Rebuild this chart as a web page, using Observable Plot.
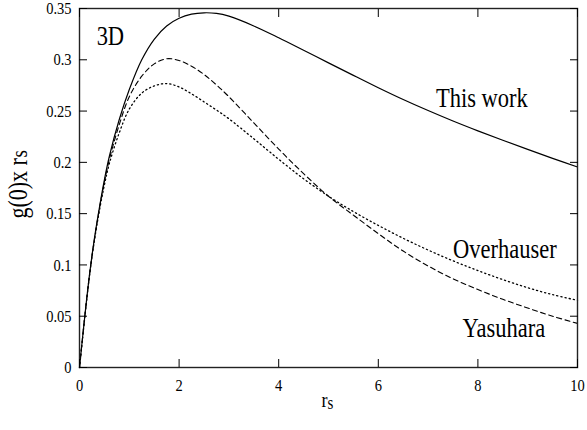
<!DOCTYPE html>
<html>
<head>
<meta charset="utf-8">
<script src="https://cdn.jsdelivr.net/npm/d3@7"></script>
<script src="https://cdn.jsdelivr.net/npm/@observablehq/plot@0.6"></script>
<style>
  html, body { margin: 0; padding: 0; background: white; }
</style>
</head>
<body>
<div id="chart"></div>
<script>
// r_s sample points
const rs = [0, 0.1, 0.2, 0.3, 0.4, 0.5, 0.6, 0.8, 1.0, 1.25, 1.5, 1.75, 2.0, 2.25, 2.5, 2.75, 3.0, 3.5, 4.0, 4.5, 5.0, 5.5, 6.0, 6.5, 7.0, 7.5, 8.0, 8.5, 9.0, 9.5, 10];
// g(0) x r_s for each model
const thisWork   = [0, 0.047, 0.090, 0.126, 0.156, 0.183, 0.206, 0.242, 0.271, 0.300, 0.320, 0.333, 0.3405, 0.3445, 0.3458, 0.3452, 0.3425, 0.333, 0.3215, 0.3093, 0.297, 0.2848, 0.2728, 0.2613, 0.2505, 0.2403, 0.2307, 0.2215, 0.2126, 0.2039, 0.1955];
const overhauser = [0, 0.046, 0.089, 0.124, 0.153, 0.178, 0.199, 0.229, 0.252, 0.2675, 0.2745, 0.2768, 0.2735, 0.2668, 0.259, 0.251, 0.2425, 0.223, 0.203, 0.184, 0.167, 0.152, 0.1385, 0.126, 0.1145, 0.104, 0.0945, 0.0857, 0.0778, 0.071, 0.0655];
const yasuhara   = [0, 0.047, 0.090, 0.125, 0.155, 0.181, 0.203, 0.237, 0.264, 0.284, 0.296, 0.301, 0.2993, 0.2937, 0.2857, 0.2755, 0.264, 0.2385, 0.213, 0.189, 0.167, 0.1485, 0.1305, 0.1135, 0.099, 0.0865, 0.076, 0.0665, 0.058, 0.050, 0.043];

const seriesNames = ["This work", "Overhauser", "Yasuhara"];
const seriesValues = [thisWork, overhauser, yasuhara];

// annotation labels (data coordinates)
const labelText = ["3D", "This work", "Overhauser", "Yasuhara"];
const labelX = [0.62, 8.08, 8.54, 8.52];
const labelY = [0.3227, 0.2623, 0.115, 0.0383];

const xTicks = [0, 2, 4, 6, 8, 10];
const yTicks = [0, 0.05, 0.1, 0.15, 0.2, 0.25, 0.3, 0.35];

const rows = seriesNames.flatMap((name, k) => rs.map((r, i) => ({series: name, r, g: seriesValues[k][i]})));
const labels = labelText.map((t, i) => ({t, x: labelX[i], y: labelY[i]}));
const yFmt = d => String(+d.toFixed(2));

const lineStyle = {
  "This work": {strokeDasharray: null, strokeWidth: 1.2},
  "Overhauser": {strokeDasharray: "1.2,3", strokeWidth: 1.3},
  "Yasuhara": {strokeDasharray: "5,3.5", strokeWidth: 1.1}
};

const plot = Plot.plot({
  width: 587,
  height: 430,
  marginLeft: 79,
  marginRight: 10,
  marginTop: 8,
  marginBottom: 63,
  style: {fontFamily: "'Liberation Serif', 'Times New Roman', serif", fontSize: "14.5px", background: "white", color: "black"},
  x: {domain: [0, 10]},
  y: {domain: [0, 0.35]},
  marks: [
    ...seriesNames.map(name => Plot.line(rows.filter(d => d.series === name), {
      x: "r", y: "g", stroke: "black", curve: "catmull-rom",
      strokeWidth: lineStyle[name].strokeWidth,
      strokeDasharray: lineStyle[name].strokeDasharray
    })),
    Plot.frame({stroke: "#222", strokeWidth: 1.4}),
    Plot.axisX({anchor: "bottom", ticks: xTicks, tickSize: -8, tickPadding: 19, label: null, fontSize: 14.5}),
    Plot.axisX({anchor: "top", ticks: xTicks, tickSize: -8, tickFormat: () => "", label: null}),
    Plot.axisY({anchor: "left", ticks: yTicks, tickSize: -8, tickPadding: 16, tickFormat: yFmt, label: null, fontSize: 14.5}),
    Plot.axisY({anchor: "right", ticks: yTicks, tickSize: -8, tickFormat: () => "", label: null}),
    Plot.text(labels, {x: "x", y: "y", text: "t", fontSize: 22.5, textAnchor: "middle", lineAnchor: "middle", fill: "black"}),
    // x-axis title r_s
    Plot.text(["r"], {frameAnchor: "bottom", dx: -1, dy: 33, fontSize: 18, textAnchor: "end", lineAnchor: "middle"}),
    Plot.text(["s"], {frameAnchor: "bottom", dx: -1, dy: 36, fontSize: 15, textAnchor: "start", lineAnchor: "middle"}),
    // y-axis title g(0) x r_s
    Plot.text(["g(0)x r"], {frameAnchor: "left", dx: -61, dy: 30.5, rotate: -90, fontSize: 22, textAnchor: "start", lineAnchor: "middle", ariaLabel: "ylabel"}),
    Plot.text(["s"], {frameAnchor: "left", dx: -60, dy: -30.5, rotate: -90, fontSize: 19, textAnchor: "start", lineAnchor: "middle", ariaLabel: "ylabel"})
  ]
});

// stretch text glyphs vertically like the original figure (transform already holds the position)
const svg = d3.select(plot);
svg.selectAll("text").each(function() {
  const lab = this.parentNode && this.parentNode.getAttribute("aria-label");
  if (lab === "ylabel") return;
  const t = this.getAttribute("transform");
  if (t) this.setAttribute("transform", t + " scale(1,1.2)");
});

document.getElementById("chart").appendChild(plot);
</script>
</body>
</html>
